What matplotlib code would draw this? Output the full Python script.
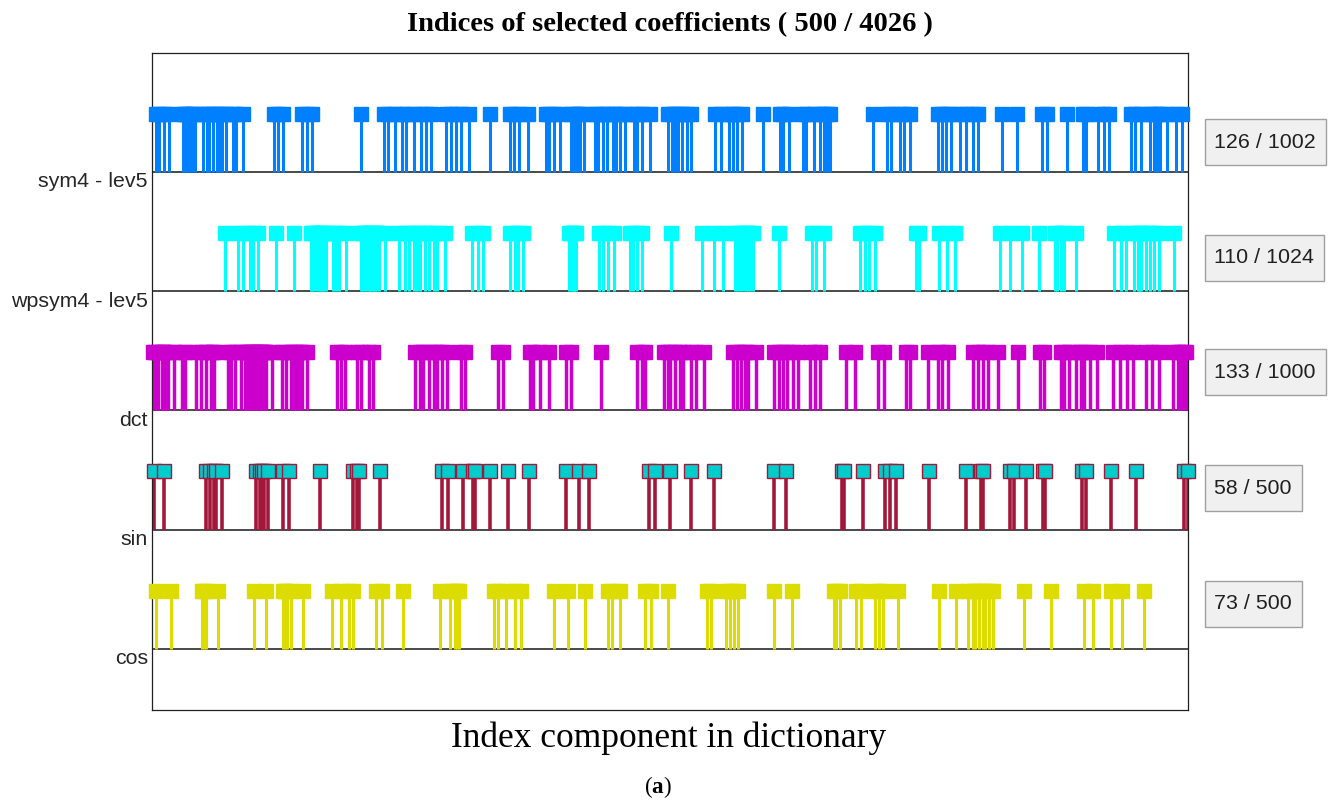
import matplotlib
matplotlib.use("Agg")
import matplotlib.pyplot as plt
from matplotlib.patches import Rectangle
import numpy as np

plt.rcParams['mathtext.fontset'] = 'custom'
plt.rcParams['mathtext.rm'] = 'Liberation Serif'
plt.rcParams['mathtext.bf'] = 'Liberation Serif:bold'

# dictionary names (top to bottom) and their sizes
dict_names = ["sym4 - lev5", "wpsym4 - lev5", "dct", "sin", "cos"]
dict_sizes = [1002, 1024, 1000, 500, 500]

# indices of the selected coefficients inside each sub-dictionary
sym4_idx = [4, 7, 12, 16, 30, 31, 33, 36, 39, 42, 49, 53, 55, 59, 63, 66, 68, 72, 78, 81,
            88, 118, 122, 127, 145, 150, 155, 202, 224, 228, 235, 242, 246, 253, 260, 265,
            270, 284, 289, 294, 299, 307, 327, 346, 350, 355, 364, 381, 384, 389, 395, 405,
            408, 411, 414, 418, 428, 431, 436, 440, 446, 449, 453, 457, 466, 469, 474, 482,
            499, 503, 506, 509, 513, 517, 521, 545, 550, 558, 562, 566, 571, 591, 607, 610,
            616, 630, 633, 640, 646, 650, 653, 656, 697, 711, 715, 723, 727, 733, 760, 764,
            768, 773, 781, 787, 794, 799, 822, 837, 861, 866, 885, 900, 903, 915, 921, 926,
            947, 951, 957, 965, 969, 972, 975, 982, 990, 996]
wpsym4_idx = [72, 85, 90, 97, 100, 105, 123, 140, 157, 158, 160, 163, 165, 167, 168, 170,
              172, 179, 182, 185, 192, 207, 208, 210, 212, 214, 215, 217, 219, 220, 222, 224,
              230, 244, 250, 254, 259, 262, 265, 270, 274, 279, 282, 290, 316, 322, 327, 354,
              359, 362, 367, 412, 414, 416, 417, 419, 442, 446, 451, 457, 472, 475, 479, 484,
              513, 544, 555, 564, 576, 578, 581, 584, 587, 589, 591, 594, 620, 652, 656, 664,
              700, 705, 709, 715, 755, 758, 778, 786, 794, 838, 848, 860, 877, 893, 895, 898,
              901, 913, 951, 958, 963, 971, 975, 977, 978, 982, 986, 990, 995, 1010]
dct_idx = [1, 3, 6, 10, 11, 13, 15, 21, 29, 32, 42, 47, 52, 57, 59, 60, 73, 76, 80, 86,
           90, 92, 94, 95, 97, 99, 100, 102, 104, 105, 107, 108, 110, 116, 125, 129, 134, 137,
           140, 143, 145, 150, 179, 182, 186, 198, 202, 209, 213, 254, 259, 262, 267, 272,
           275, 280, 285, 298, 302, 334, 339, 365, 368, 375, 383, 400, 404, 433, 468, 473,
           476, 494, 498, 500, 505, 510, 513, 520, 525, 533, 561, 565, 569, 572, 575, 583,
           600, 605, 609, 613, 619, 624, 635, 640, 645, 670, 679, 701, 707, 728, 732, 749,
           759, 763, 768, 792, 797, 802, 807, 817, 836, 857, 861, 877, 880, 885, 892, 897,
           900, 905, 912, 928, 934, 941, 947, 959, 965, 972, 986, 990, 993, 996, 998]
sin_idx = [1, 6, 26, 28, 30, 31, 34, 50, 52, 53, 54, 56, 63, 66, 81, 97, 99, 100, 110, 140,
           143, 150, 155, 156, 163, 172, 182, 200, 206, 211, 240, 243, 250, 260, 271, 300,
           306, 333, 334, 343, 354, 356, 359, 375, 393, 400, 401, 414, 416, 422, 430, 431,
           449, 451, 463, 475, 498, 500]
cos_idx = [2, 9, 24, 25, 26, 32, 49, 55, 63, 64, 65, 67, 73, 87, 91, 95, 97, 108, 111, 121,
           139, 144, 146, 147, 148, 165, 167, 171, 175, 178, 194, 201, 209, 220, 222, 226,
           238, 241, 249, 268, 270, 277, 279, 281, 283, 300, 309, 329, 330, 332, 340, 342,
           349, 351, 353, 360, 380, 388, 394, 396, 397, 399, 401, 402, 404, 406, 421, 434,
           450, 454, 463, 468, 479]

selected = [sym4_idx, wpsym4_idx, dct_idx, sin_idx, cos_idx]

# stem / marker styling per dictionary
stem_colors = ["#0080ff", "#00ffff", "#cc00cc", "#a3173a", "#dcdc00"]
face_colors = ["#0080ff", "#00ffff", "#cc00cc", "#00cccc", "#dcdc00"]
edge_colors = ["#0080ff", "#00ffff", "#cc00cc", "#a3173a", "#dcdc00"]
stem_widths = [2.2, 2.2, 2.5, 2.6, 2.2]

W, H = 1331, 806
fig = plt.figure(figsize=(W / 100, H / 100), dpi=100)
ax = fig.add_axes([152 / W, (H - 710) / H, 1036 / W, 657 / H])

n_rows = len(dict_names)
baselines = [n_rows - k for k in range(n_rows)]
stem_h = 0.49

for k in range(n_rows):
    base = baselines[k]
    x = np.asarray(selected[k], dtype=float) / dict_sizes[k]
    ax.hlines(base, 0, 1, color="#3a3a3a", lw=1.3, zorder=1)
    ax.vlines(x, base, base + stem_h, color=stem_colors[k], lw=stem_widths[k], zorder=2)
    ax.plot(x, np.full_like(x, base + stem_h), ls="none", marker="s", ms=9.4,
            mfc=face_colors[k], mec=edge_colors[k], mew=1.0, clip_on=False, zorder=3)

ax.set_xlim(0, 1)
ax.set_ylim(0.488, 5.998)
ax.set_xticks([])
ax.set_yticks([b - 0.067 for b in baselines])
ax.set_yticklabels(dict_names, family="Liberation Sans", fontsize=15.4, color="#262626")
ax.tick_params(axis="y", length=0, pad=3)
for sp in ax.spines.values():
    sp.set_linewidth(0.9)
    sp.set_color("#202020")

# counts of selected atoms per dictionary, in grey framed boxes
box_y = [142, 257.5, 372.5, 488, 603.5]
box_left, box_h, box_pad = 1205, 46, 9.5
count_texts = []
for k in range(n_rows):
    t = fig.text((box_left + box_pad) / W, 1 - box_y[k] / H,
                 f"{len(selected[k])} / {dict_sizes[k]}",
                 family="Liberation Sans", fontsize=15.4, color="#202020",
                 ha="left", va="center", zorder=5)
    count_texts.append(t)

fig.canvas.draw()
renderer = fig.canvas.get_renderer()
for k, t in enumerate(count_texts):
    ext = t.get_window_extent(renderer)
    width = ext.x1 + box_pad - box_left
    fig.patches.append(Rectangle((box_left / W, 1 - (box_y[k] + box_h / 2) / H),
                                 width / W, box_h / H, transform=fig.transFigure,
                                 fc="#f0f0f0", ec="#a0a0a0", lw=1.0, zorder=4))

total_sel = sum(len(s) for s in selected)
total_size = sum(dict_sizes)
fig.text(670 / W, 1 - 25 / H, f"Indices of selected coefficients ( {total_sel} / {total_size} )",
         family="Liberation Serif", weight="bold", fontsize=20.5, ha="center", va="center")
fig.text(669 / W, 1 - 738 / H, "Index component in dictionary",
         family="Liberation Serif", fontsize=25.5, ha="center", va="center")
fig.text(658 / W, 1 - 787 / H, r"($\mathbf{a}$)",
         family="Liberation Serif", fontsize=16.5, ha="center", va="center")

fig.savefig("out.png", dpi=100)
